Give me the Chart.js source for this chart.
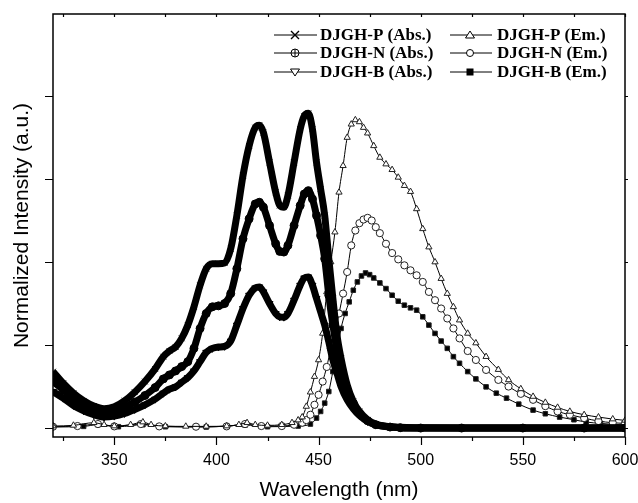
<!DOCTYPE html>
<html>
<head>
<meta charset="utf-8">
<script src="https://cdn.jsdelivr.net/npm/chart.js"></script>
<style>
  html, body { margin: 0; padding: 0; background: #fff; }
</style>
</head>
<body>
<canvas id="myChart" width="638" height="503"></canvas>
<script>
// wavelengths (nm) and normalized intensities
const pAbsWl = [320,325,330,335,340,345,350,355,360,365,370,374,377,380,383,386,389,392,395,398,401,404,407,410,413,416,419,421,423,426,429,431,433,435,438,441,443,445,447,449,451,453,455,457,459,461,464,467,470,474,478,485,490,500,520,550,580,600]
const pAbsI  = [0.17,0.135,0.105,0.082,0.066,0.058,0.064,0.082,0.108,0.14,0.178,0.215,0.232,0.244,0.27,0.31,0.365,0.43,0.48,0.495,0.495,0.497,0.54,0.64,0.76,0.85,0.905,0.912,0.89,0.8,0.71,0.67,0.665,0.7,0.8,0.9,0.94,0.948,0.9,0.8,0.72,0.64,0.51,0.39,0.28,0.21,0.13,0.08,0.05,0.025,0.012,0.004,0.002,0.001,0,0,0,0]

const nAbsWl = [320,325,330,335,340,345,350,355,360,365,370,374,377,380,383,386,389,392,395,398,401,404,407,410,413,416,419,421,423,426,429,431,433,435,438,441,443,445,447,449,451,453,455,457,459,461,464,467,470,474,478,485,490,500,520,550,580,600]
const nAbsI  = [0.14,0.115,0.088,0.068,0.053,0.046,0.05,0.062,0.078,0.098,0.122,0.148,0.16,0.172,0.185,0.2,0.24,0.3,0.345,0.365,0.368,0.375,0.405,0.48,0.57,0.63,0.675,0.68,0.665,0.61,0.555,0.532,0.53,0.55,0.61,0.67,0.705,0.715,0.69,0.64,0.58,0.51,0.4,0.31,0.235,0.175,0.115,0.075,0.045,0.022,0.01,0.003,0.001,0,0,0,0,0]

const bAbsWl = [320,325,330,335,340,345,350,355,360,365,370,374,377,380,383,386,389,392,395,398,401,404,407,410,413,416,419,421,423,426,429,431,433,435,438,441,443,445,447,449,451,453,455,457,459,461,464,467,470,474,478,485,490,500,520,550,580,600]
const bAbsI  = [0.11,0.09,0.068,0.052,0.04,0.033,0.036,0.044,0.056,0.07,0.087,0.105,0.117,0.124,0.138,0.152,0.172,0.2,0.228,0.24,0.244,0.246,0.262,0.31,0.36,0.4,0.422,0.425,0.41,0.375,0.345,0.335,0.334,0.345,0.385,0.43,0.452,0.455,0.43,0.39,0.35,0.31,0.26,0.205,0.165,0.125,0.085,0.058,0.038,0.02,0.01,0.003,0.001,0,0,0,0,0]

const pEmWl = [320,330,340,345,350,358,364,368,375,385,395,405,411,415,419,425,432,437,440,442,444,446,448,450,452,454,456,458,460,462,464,466,468,470,472,474,477,480,483,486,489,492,495,498,501,504,507,510,513,516,519,523,527,532,538,543,549,555,561,567,573,580,587,594,600]
const pEmI  = [0.006,0.008,0.016,0.01,0.006,0.01,0.018,0.01,0.006,0.005,0.005,0.006,0.01,0.016,0.01,0.008,0.01,0.016,0.024,0.033,0.065,0.108,0.155,0.205,0.285,0.41,0.5,0.59,0.71,0.79,0.875,0.915,0.928,0.922,0.905,0.888,0.85,0.815,0.795,0.778,0.755,0.73,0.712,0.66,0.6,0.545,0.5,0.45,0.405,0.365,0.325,0.285,0.256,0.215,0.176,0.145,0.118,0.095,0.077,0.062,0.05,0.04,0.033,0.027,0.023]

const nEmWl = [320,332,342,350,363,372,390,405,414,422,432,438,442,444,446,448,450,452,454,456,458,460,462,464,466,468,470,472,474,476,478,480,483,486,489,492,495,498,501,504,507,510,513,516,519,523,527,532,538,543,549,555,561,567,573,580,587,594,600]
const nEmI  = [0.004,0.006,0.012,0.005,0.012,0.005,0.004,0.005,0.012,0.006,0.006,0.01,0.016,0.024,0.04,0.07,0.1,0.14,0.184,0.24,0.29,0.345,0.405,0.47,0.55,0.595,0.617,0.628,0.633,0.625,0.605,0.587,0.555,0.527,0.508,0.49,0.475,0.46,0.44,0.41,0.385,0.36,0.33,0.3,0.27,0.232,0.205,0.175,0.145,0.125,0.103,0.085,0.066,0.05,0.04,0.03,0.021,0.016,0.014]

const bEmWl = [320,335,342,352,364,375,395,414,425,440,446,449,451,453,455,457,459,461,463,465,467,469,471,473,475,477,480,483,486,489,492,495,498,501,504,507,510,513,516,519,523,527,532,537,542,548,555,561,568,575,581,588,594,600]
const bEmI  = [0.003,0.005,0.01,0.004,0.01,0.004,0.003,0.009,0.004,0.006,0.012,0.03,0.05,0.075,0.11,0.17,0.226,0.3,0.345,0.38,0.415,0.44,0.458,0.467,0.462,0.452,0.437,0.42,0.4,0.382,0.37,0.362,0.355,0.335,0.31,0.285,0.262,0.24,0.215,0.195,0.17,0.148,0.124,0.105,0.09,0.072,0.054,0.043,0.033,0.025,0.018,0.014,0.011,0.009]

const seriesNames = ['DJGH-P (Abs.)','DJGH-N (Abs.)','DJGH-B (Abs.)','DJGH-P (Em.)','DJGH-N (Em.)','DJGH-B (Em.)']
const xLabelTicks = [350,400,450,500,550,600]
const xTickMarks = [325,350,375,400,425,450,475,500,525,550,575,600]
const yTickMarks = [0,0.25,0.5,0.75,1]

const toPts = (wl, v) => wl.map((w, i) => ({x: w, y: v[i]}))

// legend symbol painters
function drawSymbol(ctx, kind, cx, cy){
  ctx.save()
  ctx.lineWidth = 1
  ctx.strokeStyle = '#000'
  ctx.fillStyle = '#fff'
  ctx.beginPath()
  if(kind === 'x'){
    ctx.moveTo(cx-4, cy-4); ctx.lineTo(cx+4, cy+4)
    ctx.moveTo(cx+4, cy-4); ctx.lineTo(cx-4, cy+4)
    ctx.lineWidth = 1.4
    ctx.stroke()
  }else if(kind === 'oplus'){
    ctx.arc(cx, cy, 4, 0, Math.PI*2); ctx.fill(); ctx.stroke()
    ctx.beginPath()
    ctx.moveTo(cx-4, cy); ctx.lineTo(cx+4, cy)
    ctx.moveTo(cx, cy-4); ctx.lineTo(cx, cy+4)
    ctx.stroke()
  }else if(kind === 'tdown'){
    ctx.moveTo(cx-4.5, cy-3); ctx.lineTo(cx+4.5, cy-3); ctx.lineTo(cx, cy+4); ctx.closePath()
    ctx.fill(); ctx.stroke()
  }else if(kind === 'tup'){
    ctx.moveTo(cx-4.5, cy+3); ctx.lineTo(cx+4.5, cy+3); ctx.lineTo(cx, cy-4); ctx.closePath()
    ctx.fill(); ctx.stroke()
  }else if(kind === 'circle'){
    ctx.arc(cx, cy, 3.5, 0, Math.PI*2); ctx.fill(); ctx.stroke()
  }else if(kind === 'square'){
    ctx.fillStyle = '#000'
    ctx.fillRect(cx-3.5, cy-3.5, 7, 7)
  }
  ctx.restore()
}

const legendSymbols = ['x','oplus','tdown','tup','circle','square']

const legendPlugin = {
  id: 'boxLegend',
  afterDraw(chart){
    const ctx = chart.ctx
    const rows = [35, 53, 72]
    const cols = [{l1: 274, l2: 317, m: 295, t: 320}, {l1: 450, l2: 492, m: 470, t: 497}]
    ctx.save()
    ctx.font = 'bold 17px "Liberation Serif", "Times New Roman", serif'
    ctx.textBaseline = 'middle'
    ctx.fillStyle = '#000'
    seriesNames.forEach((name, i)=>{
      const c = cols[i < 3 ? 0 : 1]
      const y = rows[i % 3]
      ctx.strokeStyle = '#000'
      ctx.lineWidth = 1
      ctx.beginPath(); ctx.moveTo(c.l1, y); ctx.lineTo(c.l2, y); ctx.stroke()
      drawSymbol(ctx, legendSymbols[i], c.m, y)
      ctx.fillText(name, c.t, y + 1)
    })
    ctx.restore()
  }
}

const framePlugin = {
  id: 'frame',
  afterDatasetsDraw(chart){
    const {ctx, chartArea: a, scales: {x, y}} = chart
    ctx.save()
    ctx.strokeStyle = '#000'
    ctx.lineWidth = 1.5
    ctx.strokeRect(a.left, a.top, a.right - a.left, a.bottom - a.top)
    ctx.lineWidth = 1.2
    ctx.beginPath()
    xTickMarks.forEach(v=>{
      const px = Math.round(x.getPixelForValue(v)) + 0.5
      const major = xLabelTicks.includes(v)
      ctx.moveTo(px, a.bottom); ctx.lineTo(px, a.bottom + (major ? 8 : 4))
      ctx.moveTo(px, a.top); ctx.lineTo(px, a.top + 3)
    })
    yTickMarks.forEach(v=>{
      const py = Math.round(y.getPixelForValue(v)) + 0.5
      ctx.moveTo(a.left, py); ctx.lineTo(a.left - 8, py)
      ctx.moveTo(a.right, py); ctx.lineTo(a.right + 3, py)
    })
    ctx.stroke()
    ctx.restore()
  }
}

const absStyle = (pts, style, rot) => ({
  data: pts,
  borderColor: '#000',
  borderWidth: 7,
  backgroundColor: '#000',
  pointStyle: style,
  pointRotation: rot || 0,
  pointRadius: 4,
  pointBorderColor: '#000',
  pointBackgroundColor: '#000',
  pointBorderWidth: 1,
  cubicInterpolationMode: 'monotone'
})
const emStyle = (pts, style, fill) => ({
  data: pts,
  borderColor: '#000',
  borderWidth: 1,
  pointStyle: style,
  pointRadius: style === 'rect' ? 3.2 : 3.6,
  pointBorderColor: '#222',
  pointBackgroundColor: fill,
  pointBorderWidth: 1,
  cubicInterpolationMode: 'monotone'
})

let config = {
  type: 'line',
  data: {
    datasets: [
      Object.assign({label: seriesNames[0]}, absStyle(toPts(pAbsWl, pAbsI), 'crossRot')),
      Object.assign({label: seriesNames[1]}, absStyle(toPts(nAbsWl, nAbsI), 'circle')),
      Object.assign({label: seriesNames[2]}, absStyle(toPts(bAbsWl, bAbsI), 'triangle', 180)),
      Object.assign({label: seriesNames[3]}, emStyle(toPts(pEmWl, pEmI), 'triangle', '#fff')),
      Object.assign({label: seriesNames[4]}, emStyle(toPts(nEmWl, nEmI), 'circle', '#fff')),
      Object.assign({label: seriesNames[5]}, emStyle(toPts(bEmWl, bEmI), 'rect', '#000'))
    ]
  },
  options: {
    responsive: false,
    animation: false,
    devicePixelRatio: 1,
    layout: {padding: {top: 14, right: 13, left: 0, bottom: 0}},
    plugins: {
      legend: {display: false},
      tooltip: {enabled: false}
    },
    scales: {
      x: {
        type: 'linear',
        min: 320,
        max: 600,
        afterBuildTicks: s => { s.ticks = xLabelTicks.map(v => ({value: v})) },
        afterFit: s => { s.height = 66; s.paddingLeft = 0; s.paddingRight = 0 },
        grid: {display: false, drawTicks: false},
        border: {display: false},
        ticks: {
          color: '#000',
          padding: 14,
          font: {family: '"Liberation Sans", Arial, sans-serif', size: 16},
          maxRotation: 0,
          autoSkip: false
        },
        title: {
          display: true,
          text: 'Wavelength (nm)',
          color: '#000',
          padding: {top: 0, bottom: 0},
          font: {family: '"Liberation Sans", Arial, sans-serif', size: 21}
        }
      },
      y: {
        type: 'linear',
        min: -0.027,
        max: 1.247,
        afterBuildTicks: s => { s.ticks = yTickMarks.map(v => ({value: v})) },
        afterFit: s => { s.width = 53; s.paddingTop = 0; s.paddingBottom = 0 },
        grid: {display: false, drawTicks: false},
        border: {display: false},
        ticks: {display: false},
        title: {
          display: true,
          text: 'Normalized Intensity (a.u.)',
          color: '#000',
          padding: {top: 10, bottom: 0},
          font: {family: '"Liberation Sans", Arial, sans-serif', size: 21}
        }
      }
    }
  },
  plugins: [framePlugin, legendPlugin]
}

const myChart = new Chart(document.getElementById('myChart'), config)
</script>
</body>
</html>
